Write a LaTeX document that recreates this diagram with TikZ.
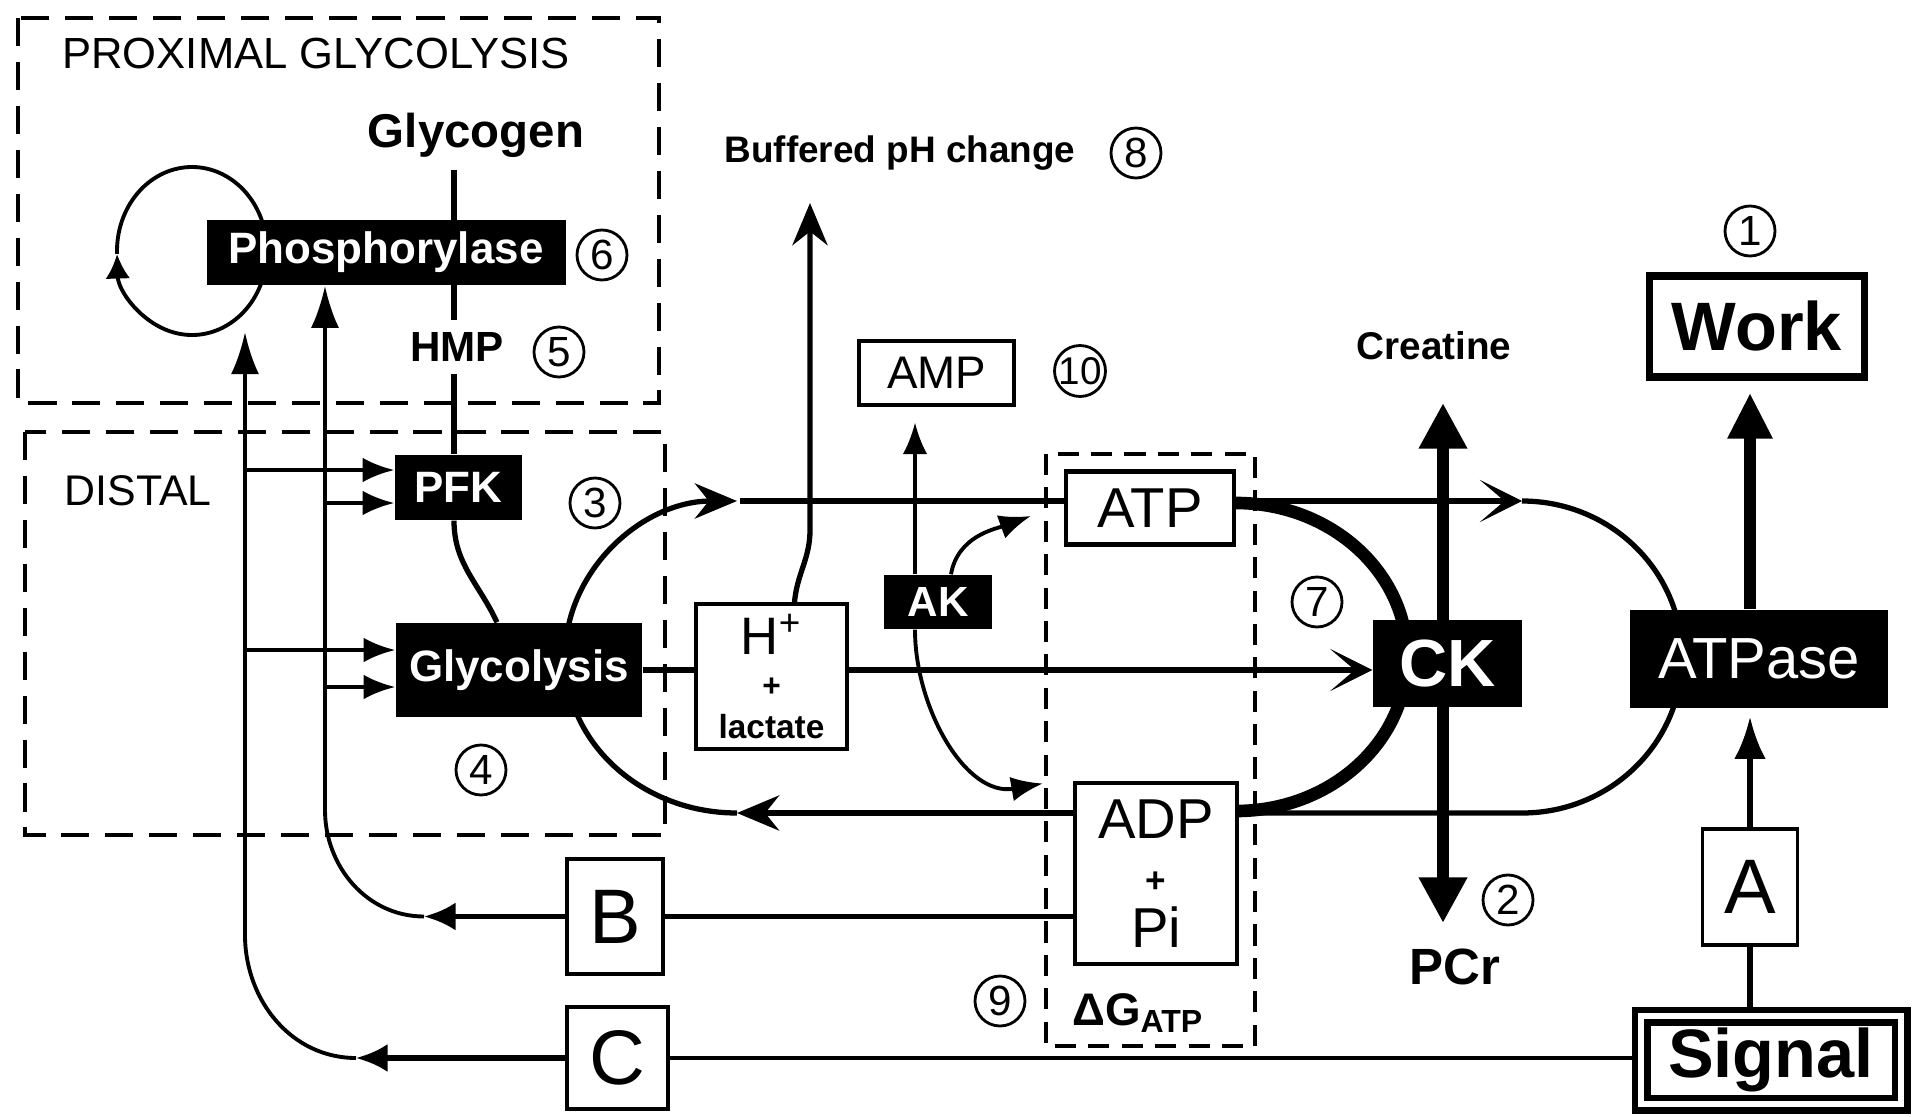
\documentclass[tikz,border=0pt]{standalone}
\usepackage{fontspec}
\setmainfont{Liberation Sans}
\usepackage{tikz}
\usetikzlibrary{arrows.meta, calc, positioning, backgrounds}

\newcommand{\fsz}[1]{\fontsize{#1}{#1}\selectfont}

\begin{document}
\begin{tikzpicture}[>=Latex,
    blackbox/.style={fill=black, text=white, inner sep=0pt},
    whitebox/.style={draw, fill=white, line width=1pt, inner sep=0pt},
    numc/.style={circle, draw, line width=0.8pt, minimum size=0.5cm, inner sep=0pt, font=\fsz{12}},
    dashbox/.style={line width=1.1pt, dash pattern=on 8pt off 4.5pt},
    conn/.style={line width=1.5pt},
    thinconn/.style={line width=0.9pt},
    bigarr/.style={line width=3.6pt},
    midtip/.style={-{Stealth[length=12pt, width=10pt, inset=4pt]}},
    barbtip/.style={-{Stealth[length=12pt, width=12pt, inset=7pt]}},
    feedtip/.style={-{Latex[length=9pt, width=7pt]}},
    longtip/.style={-{Latex[length=12pt, width=8pt]}}
]
    \useasboundingbox (0,0) rectangle (19.25,-11.17);

    % 1. Dashed regions
    \draw[dashbox] (0.18,-0.18) rectangle (6.59,-4.03);
    \draw[dashbox] (0.25,-4.32) rectangle (6.65,-8.35);
    \draw[dashbox, dash pattern=on 6pt off 3.5pt, line width=1pt] (10.46,-4.54) rectangle (12.55,-10.46);

    % 2. Plain labels
    \node[anchor=west, font=\fsz{12.4}] (proxlab) at (0.50,-0.53) {PROXIMAL GLYCOLYSIS};
    \node[font=\fsz{12.2}] (distlab) at (1.38,-4.91) {DISTAL};
    \node[font=\bfseries\fsz{13.5}] (glycogen) at (4.76,-1.35) {Glycogen};
    \node[font=\bfseries\fsz{12}] (hmp) at (4.57,-3.47) {HMP};
    \node[font=\bfseries\fsz{10.5}] (buffered) at (9.00,-1.53) {Buffered pH change};
    \node[font=\bfseries\fsz{11}] (creatine) at (14.34,-3.46) {Creatine};
    \node[font=\bfseries\fsz{14.5}] (pcr) at (14.55,-9.67) {PCr};
    \node[font=\bfseries\fsz{13}] (dgatp) at (11.38,-10.13) {ΔG\textsubscript{ATP}};

    % 3. Enzymes (black boxes)
    \node[blackbox, minimum width=3.59cm, minimum height=0.65cm, font=\bfseries\fsz{12.5}] (phos) at (3.86,-2.525) {Phosphorylase};
    \node[blackbox, minimum width=1.27cm, minimum height=0.65cm, font=\bfseries\fsz{12.5}] (pfk) at (4.585,-4.875) {PFK};
    \node[blackbox, minimum width=2.46cm, minimum height=0.94cm, font=\bfseries\fsz{12.5}] (gly) at (5.19,-6.70) {Glycolysis};
    \node[blackbox, minimum width=1.08cm, minimum height=0.54cm, font=\bfseries\fsz{12}] (ak) at (9.38,-6.02) {AK};
    \node[blackbox, minimum width=1.49cm, minimum height=0.87cm, font=\bfseries\fsz{19}] (ck) at (14.475,-6.635) {CK};
    \node[blackbox, minimum width=2.58cm, minimum height=0.98cm, font=\fsz{16.5}] (atpase) at (17.59,-6.59) {ATPase};

    % 4. Metabolites and controls (white boxes)
    \node[whitebox, minimum width=1.51cm, minimum height=1.45cm, align=center, font=\fontsize{15}{12}\selectfont] (hl) at (7.715,-6.765)
        {H\textsuperscript{+}\\{\bfseries\fontsize{9}{12}\selectfont +}\\{\bfseries\fontsize{9.5}{12}\selectfont lactate}};
    \node[whitebox, line width=0.9pt, minimum width=1.55cm, minimum height=0.64cm, font=\fsz{13}] (amp) at (9.365,-3.73) {AMP};
    \node[whitebox, line width=1.2pt, minimum width=1.68cm, minimum height=0.73cm, font=\fsz{16}] (atp) at (11.50,-5.08) {ATP};
    \node[whitebox, line width=1.2pt, minimum width=1.62cm, minimum height=1.81cm, align=center, font=\fontsize{16}{15.5}\selectfont] (adp) at (11.56,-8.735)
        {ADP\\{\bfseries\fontsize{10}{15.5}\selectfont +}\\Pi};
    \node[whitebox, minimum width=0.96cm, minimum height=1.15cm, font=\fsz{22}] (b) at (6.15,-9.165) {B};
    \node[whitebox, minimum width=1.01cm, minimum height=1.02cm, font=\fsz{22}] (c) at (6.175,-10.58) {C};
    \node[whitebox, minimum width=0.95cm, minimum height=1.16cm, font=\fsz{22}] (a) at (17.50,-8.87) {A};
    \node[whitebox, line width=2.2pt, minimum width=2.15cm, minimum height=1.01cm, font=\bfseries\fsz{19.5}] (work) at (17.57,-3.265) {Work};
    \node[whitebox, double, line width=1.8pt, double distance=1.8pt, minimum width=2.6cm, minimum height=0.88cm, font=\bfseries\fsz{19.5}] (signal) at (17.71,-10.60) {Signal};

    % 5. Circled numbers
    \node[numc] (n1) at (17.50,-2.31) {1};
    \node[numc] (n2) at (15.08,-9.00) {2};
    \node[numc] (n3) at (5.95,-5.03) {3};
    \node[numc] (n4) at (4.81,-7.70) {4};
    \node[numc] (n5) at (5.59,-3.52) {5};
    \node[numc] (n6) at (6.02,-2.55) {6};
    \node[numc] (n7) at (13.17,-6.02) {7};
    \node[numc] (n8) at (11.36,-1.53) {8};
    \node[numc] (n9) at (10.00,-10.01) {9};
    \node[numc, font=\fsz{11}] (n10) at (10.80,-3.71) {10};

    % 6. Connectors, behind the boxes
    \begin{scope}[on background layer]
        % glycogen -> HMP -> PFK -> glycolysis
        \coordinate (gline) at (4.54,0);
        \draw[conn] (glycogen.south -| gline) -- (hmp.north -| gline);
        \draw[conn] (hmp.south -| gline) -- (pfk.north -| gline);
        \draw[conn] (pfk.south -| gline) to[out=-90, in=115] ($(gly.north)+(-0.22,0)$);

        % phosphorylase loop
        \coordinate (loopc) at (1.92,-2.51);
        \draw[conn, line width=1.1pt, -{Latex[length=7pt, width=7pt]}] ([shift={(-15:0.75 and 0.84)}]loopc)
            arc[start angle=-15, end angle=-178, x radius=0.75, y radius=0.84];
        \draw[conn, line width=1.1pt] ([shift={(-178:0.75 and 0.84)}]loopc)
            arc[start angle=-178, end angle=-345, x radius=0.75, y radius=0.84];

        % control lines B and C
        \coordinate (lx1) at (2.45,0);
        \coordinate (lx2) at (3.25,0);
        \coordinate (btip) at (4.24,-9.165);
        \coordinate (ctip) at (3.56,-10.58);
        \coordinate (looptip) at (2.45,-3.32);
        \draw[conn] (b.east) -- (b.east -| adp.west);
        \draw[thinconn, line width=1.1pt] (c.east) -- (c.east -| signal.west);
        \draw[conn, -{Latex[length=9pt, width=8pt]}] (b.west) -- (btip);
        \draw[conn, -{Latex[length=9pt, width=8pt]}] (c.west) -- (ctip);
        \draw[conn, line width=1.1pt, longtip] (btip) to[out=180, in=-90] (3.25,-8.10) -- (phos.south -| lx2);
        \draw[conn, line width=1.1pt, longtip] (ctip) to[out=180, in=-90] (2.45,-9.35) -- (looptip);

        % feeders into PFK and glycolysis
        \coordinate (pf1) at ($(pfk.west)+(0,0.175)$);
        \coordinate (pf2) at ($(pfk.west)+(0,-0.155)$);
        \coordinate (gl1) at ($(gly.west)+(0,0.20)$);
        \coordinate (gl2) at ($(gly.west)+(0,-0.17)$);
        \draw[conn, line width=1.1pt, feedtip] (pf1 -| lx1) -- (pf1);
        \draw[conn, line width=1.1pt, feedtip] (pf2 -| lx2) -- (pf2);
        \draw[conn, line width=1.1pt, feedtip] (gl1 -| lx1) -- (gl1);
        \draw[conn, line width=1.1pt, feedtip] (gl2 -| lx2) -- (gl2);

        % glycolysis -> H+ lactate -> CK, and pH
        \draw[conn, line width=1.7pt] (gly.east) -- (gly.east -| hl.west);
        \draw[conn, line width=1.7pt, barbtip] (gly.east -| hl.east) -- (gly.east -| ck.west);
        \coordinate (phtip) at (8.10,-2.03);
        \draw[conn, -{Stealth[length=12pt, width=10pt]}] ($(hl.north)+(0.23,0)$) to[out=85, in=-90] (8.10,-5.30) -- (phtip);

        % adenylate kinase
        \draw[thinconn, -{Latex[length=9pt, width=7pt]}] ($(ak.north)+(-0.23,0)$) -- ($(amp.south)+(-0.215,-0.16)$);
        \draw[conn, line width=1.1pt, -{Latex[length=9pt, width=7pt]}] ($(ak.north)+(0.13,0)$) to[out=80, in=200] ($(atp.west)+(-0.33,-0.08)$);
        \draw[conn, line width=1.1pt, -{Latex[length=9pt, width=7pt]}] ($(ak.south)+(-0.23,0)$) to[out=-90, in=190] ($(adp.west)+(-0.30,0.90)$);

        % left half of the ATP/ADP cycle
        \coordinate (elc) at (7.37,-6.57);
        \coordinate (eltop) at (7.40,-5.01);
        \coordinate (elbot) at (7.37,-8.13);
        \draw[conn, midtip] ([shift={(180:1.72 and 1.56)}]elc) arc[start angle=180, end angle=90, x radius=1.72, y radius=1.56];
        \draw[conn] (eltop) -- (eltop -| atp.west);
        \draw[conn, midtip] (elbot -| adp.west) -- (elbot);
        \draw[conn] (elbot) arc[start angle=270, end angle=180, x radius=1.72, y radius=1.56];

        % right half of the ATP/ADP cycle
        \coordinate (ertop) at (15.22,-5.01);
        \coordinate (erbot) at (15.22,-8.13);
        \draw[conn, barbtip] (eltop -| atp.east) -- (ertop);
        \draw[conn] (ertop) arc[start angle=90, end angle=0, x radius=1.6, y radius=1.56];
        \draw[conn] (erbot -| adp.east) -- (erbot) arc[start angle=-90, end angle=0, x radius=1.6, y radius=1.56];

        % creatine kinase
        \draw[bigarr] ($(atp.east)+(0,0.05)$) arc[start angle=90, end angle=-90, x radius=1.71, y radius=1.54];
        \coordinate (cktop) at (14.43,-4.03);
        \coordinate (ckbot) at (14.43,-9.23);
        \draw[line width=3.2pt, {Triangle[length=13pt, width=13pt]}-{Triangle[length=13pt, width=13pt]}] (cktop) -- (ckbot);

        % work and signal
        \draw[line width=3.2pt, -{Triangle[length=13pt, width=12pt]}] (atpase.north -| a.north) -- ([yshift=-0.12cm]work.south -| a.north);
        \draw[conn, -{Latex[length=12pt, width=9pt]}] (a.north) -- ([yshift=-0.08cm]atpase.south -| a.north);
        \draw[conn] (signal.north -| a.south) -- (a.south);
    \end{scope}
\end{tikzpicture}
\end{document}
